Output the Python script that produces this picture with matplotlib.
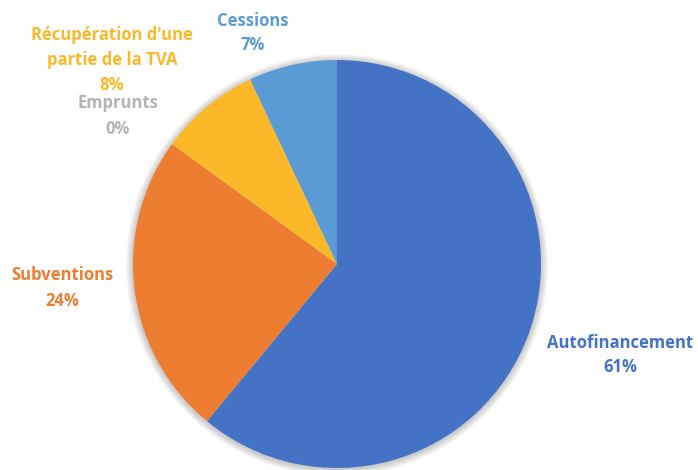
import matplotlib.pyplot as plt
from matplotlib.patches import Circle

# Data
categories = ["Autofinancement", "Subventions", "Emprunts",
              "Récupération d'une\npartie de la TVA", "Cessions"]
shares = [61, 24, 0.0001, 8, 7]
pct_labels = ["61%", "24%", "0%", "8%", "7%"]

colors = ["#4472C4", "#ED7D31", "#A5A5A5", "#FBB829", "#5B9BD5"]
text_colors = ["#4472C4", "#ED7D31", "#B4B4B4", "#FBB829", "#5B9BD5"]

# label anchor points (pixels, from top-left)
label_pos = [(620, 355), (62, 288), (118, 116), (112, 60), (253, 33)]

W, H = 698, 470
fig = plt.figure(figsize=(W / 100, H / 100), dpi=100)
ax = fig.add_axes([0, 0, 1, 1])

cx, cy, r = 337, H - 264, 204

# soft shadow behind the pie
for i in range(6):
    ax.add_patch(Circle((cx, cy - 1), r + 1 + i * 1.2, color="#000000",
                        alpha=0.035, lw=0, zorder=0))

ax.pie(shares, colors=colors, startangle=90, counterclock=False,
       center=(cx, cy), radius=r, frame=True,
       wedgeprops=dict(linewidth=0, zorder=2))
ax.set_xlim(0, W)
ax.set_ylim(0, H)
ax.set_aspect("equal")
ax.axis("off")

for name, pct, col, (x, y) in zip(categories, pct_labels, text_colors, label_pos):
    ax.text(x, H - y, name + "\n" + pct, ha="center", va="center",
            color=col, fontsize=12, fontweight="bold", family="Open Sans",
            linespacing=1.5)

fig.savefig("out.png", dpi=100)
